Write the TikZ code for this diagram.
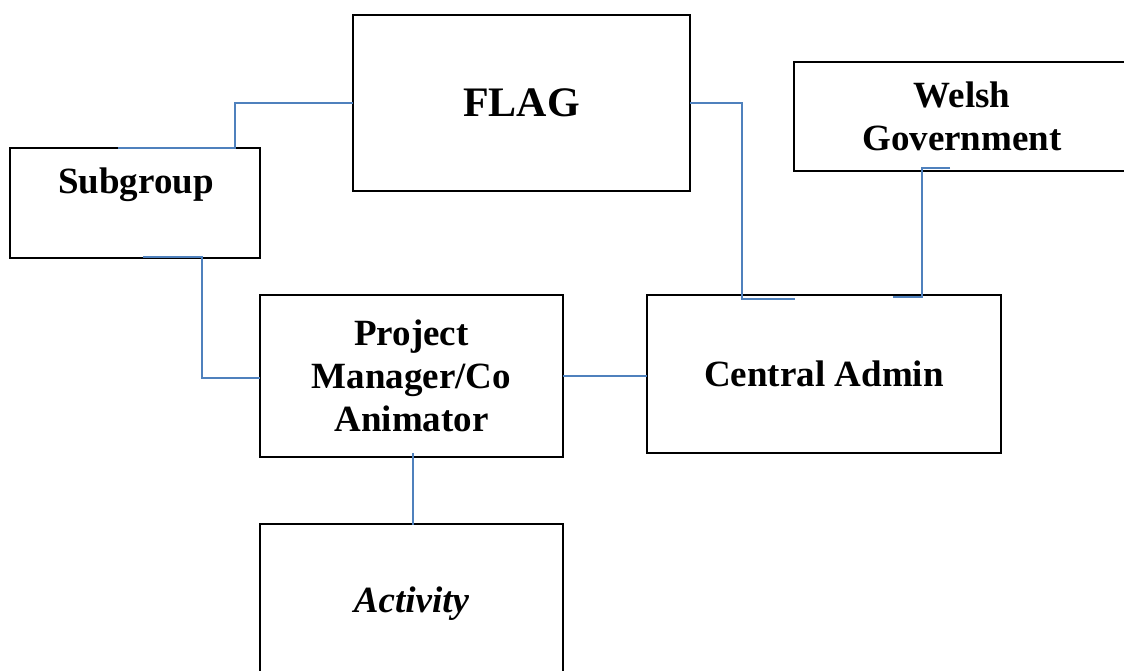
\documentclass[tikz,border=0pt]{standalone}
\usepackage{fontspec}
\setmainfont{Liberation Serif}
\usepackage{tikz}
\usetikzlibrary{positioning}
\definecolor{linkblue}{RGB}{79,129,189}
\tikzset{%
  box/.style = {rectangle,draw,line width=1.7pt,outer sep=0pt,
        inner sep=0pt,align=center,
        font=\bfseries\fontsize{37}{43}\selectfont},
  link/.style = {draw=linkblue,line width=1.3pt}
}

\begin{document}
\begin{tikzpicture}[x=1pt,y=-1pt]
                \useasboundingbox (0,0) rectangle (1124,671);

                \node[box, minimum width=337pt, minimum height=176pt,
                      font=\bfseries\fontsize{42}{48}\selectfont] (flag) at (521.5,103) {FLAG};
                \node[box, minimum width=336pt, minimum height=109pt] (welsh) at (962,116.5) {Welsh\\Government};
                \node[box, minimum width=250pt, minimum height=110pt] (sub) at (135,203) {};
                \node[font=\bfseries\fontsize{37}{43}\selectfont, anchor=base] (subtxt) at (136,194) {Subgroup};
                \node[box, minimum width=303pt, minimum height=162pt] (pm) at (411.5,376) {Project\\Manager/Co\\Animator};
                \node[box, minimum width=354pt, minimum height=158pt] (ca) at (824,374) {Central Admin};
                \node[box, minimum width=303pt, minimum height=160pt,
                      font=\bfseries\itshape\fontsize{37}{43}\selectfont] (act) at (411.5,604) {Activity};

                % connectors
                \draw[link] ([shift={(-17,0)}]sub.north) -- ([shift={(100,0)}]sub.north) |- (flag.west);
                \draw[link] (flag.east) -| ([shift={(95,4)}]ca.north west) -- ([shift={(148,4)}]ca.north west);
                \draw[link] ([shift={(-12,-3)}]welsh.south) -| ([shift={(98,2)}]ca.north) -- ([shift={(69,2)}]ca.north);
                \draw[link] ([shift={(8,-1)}]sub.south) -- ([shift={(67,-1)}]sub.south) |- ([shift={(0,2)}]pm.west);
                \draw[link] (pm.east) -- (pm.east -| ca.west);
                \draw[link] ([shift={(1.5,-4)}]pm.south) -- ([shift={(1.5,1)}]act.north);
            \end{tikzpicture}
\end{document}
